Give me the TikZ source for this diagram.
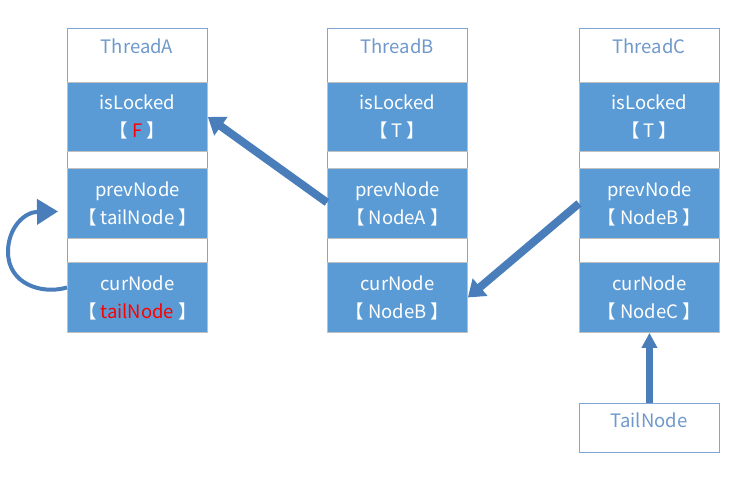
\documentclass[tikz,border=0pt]{standalone}
\usepackage{fontspec}
\setmainfont{Noto Sans CJK SC}
\usetikzlibrary{arrows.meta,calc}
\definecolor{boxblue}{HTML}{5B9BD5}
\definecolor{arrowblue}{HTML}{4A7EBB}
\definecolor{edgeblue}{HTML}{7EA6D6}
\definecolor{headtext}{HTML}{6F99CB}
\definecolor{cellgray}{HTML}{BFBFBF}
\definecolor{alert}{HTML}{FF0000}
% bracketed field values
\newcommand\fieldval[1]{【\hspace{4pt}#1\hspace{4pt}】}
\begin{document}
\begin{tikzpicture}[x=1pt,y=-1pt,
  font=\fontsize{18.5}{28}\selectfont,
  frame/.style={draw=edgeblue, line width=0.9pt, fill=white, rectangle,
    minimum width=140pt, inner sep=0pt, anchor=north west},
  headtitle/.style={text=headtext, inner sep=0pt},
  cell/.style={draw=cellgray, line width=0.9pt, fill=boxblue, rectangle,
    minimum width=140pt, inner sep=0pt, anchor=north west,
    text=white, align=center},
  blk/.style={draw=arrowblue, line width=8pt,
    -{Triangle[length=16pt,width=22pt]}},
  upblk/.style={draw=arrowblue, line width=7pt,
    -{Triangle[length=15pt,width=15pt]}},
  loopblk/.style={draw=arrowblue, line width=4pt,
    -{Triangle[length=21pt,width=25pt]}}]
\useasboundingbox (0,0) rectangle (740,479);

% ThreadA
\node[frame, minimum height=304pt] (fA) at (67,28) {};
\node[headtitle] (hA) at (137,46) {ThreadA};
\node[cell, minimum height=69pt] (lA) at (67,82) {isLocked\\\fieldval{\textcolor{alert}{F}}};
\node[cell, minimum height=70pt] (pA) at (67,168) {prevNode\\\fieldval{tailNode}};
\node[cell, minimum height=70pt] (cA) at (67,262) {curNode\\\fieldval{\textcolor{alert}{tailNode}}};

% ThreadB
\node[frame, minimum height=304pt] (fB) at (327,28) {};
\node[headtitle] (hB) at (397,46) {ThreadB};
\node[cell, minimum height=69pt] (lB) at (327,82) {isLocked\\\fieldval{T}};
\node[cell, minimum height=70pt] (pB) at (327,168) {prevNode\\\fieldval{NodeA}};
\node[cell, minimum height=70pt] (cB) at (327,262) {curNode\\\fieldval{NodeB}};

% ThreadC
\node[frame, minimum height=304pt] (fC) at (579,28) {};
\node[headtitle] (hC) at (649,46) {ThreadC};
\node[cell, minimum height=69pt] (lC) at (579,82) {isLocked\\\fieldval{T}};
\node[cell, minimum height=70pt] (pC) at (579,168) {prevNode\\\fieldval{NodeB}};
\node[cell, minimum height=70pt] (cC) at (579,262) {curNode\\\fieldval{NodeC}};

% global tail pointer, label sits in the upper part of its box
\node[frame, minimum height=49pt] (tail) at (579,403) {};
\node[headtitle] (tailT) at (649,420) {TailNode};

% links between the queue nodes
\draw[blk] ($(pB.west)+(0,-1)$) -- (lA.east);
\draw[blk] (pC.west) -- (cB.east);
\draw[upblk] (tail.north) -- (cC.south);

% ThreadA: curNode points back to prevNode
\coordinate (loopS) at ($(cA.west)+(0,-10)$);
\coordinate (loopE) at ($(pA.west)+(-9,8)$);
\draw[loopblk] (loopS) .. controls (42,295) and (8,284) .. (8,252)
  .. controls (8,228) and (24,212) .. (loopE);
\end{tikzpicture}
\end{document}
